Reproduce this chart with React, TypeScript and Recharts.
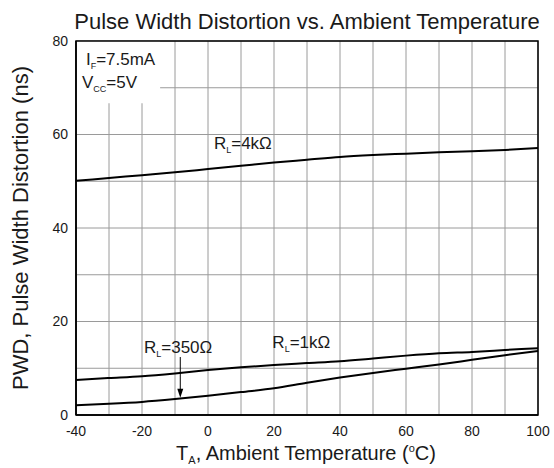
import React from 'react';
import { LineChart, Line, XAxis, YAxis, CartesianGrid, ReferenceArea, ReferenceDot, ReferenceLine } from 'recharts';

const temps = [-40, -30, -20, -10, 0, 10, 20, 30, 40, 50, 60, 70, 80, 90, 100];
const rl4k = [50.1, 50.7, 51.3, 51.9, 52.6, 53.3, 54.0, 54.6, 55.2, 55.6, 55.9, 56.2, 56.4, 56.7, 57.1];
const rl1k = [7.5, 7.9, 8.3, 8.9, 9.6, 10.2, 10.7, 11.1, 11.5, 12.1, 12.7, 13.2, 13.5, 13.9, 14.3];
const rl350 = [2.1, 2.4, 2.8, 3.4, 4.1, 4.9, 5.7, 6.9, 8.0, 9.0, 9.9, 10.8, 11.8, 12.8, 13.7];
const yTicks = [0, 10, 20, 30, 40, 50, 60, 70, 80];

const data = temps.map((t, i) => ({ t, a: rl4k[i], b: rl1k[i], c: rl350[i] }));

const FONT = '"Liberation Sans", Arial, sans-serif';
const TXT = '#1a1a1a';

const subLabel = (main: string, sub: string, rest: string, fs: number, subFs: number) => (props: any) => {
  const vb = props.viewBox || {};
  const x = vb.x ?? 0;
  const y = vb.y ?? 0;
  return (
    <text x={x} y={y} fontFamily={FONT} fontSize={fs} fill={TXT}>
      {main}
      <tspan fontSize={subFs} dy={4}>{sub}</tspan>
      <tspan dy={-4}>{rest}</tspan>
    </text>
  );
};

const ArrowHead = (props: any) => {
  const { cx, cy } = props;
  if (cx == null || cy == null) return null;
  return <path d={`M${cx},${cy} L${cx - 3},${cy - 9} L${cx + 3},${cy - 9} Z`} fill="#000" />;
};

export default function App() {
  return (
    <div style={{ position: 'absolute', left: 0, top: 0, width: 554, height: 468, background: '#fff' }}>
      <LineChart width={554} height={468} data={data} margin={{ top: 41, right: 16, bottom: 0, left: 0 }}>
        <CartesianGrid stroke="#9a9a9a" strokeWidth={1} />
        <XAxis
          dataKey="t"
          type="number"
          domain={[-40, 100]}
          ticks={temps}
          height={53}
          tickLine={false}
          tickSize={0}
          tickMargin={11}
          axisLine={{ stroke: '#000', strokeWidth: 1.5 }}
          tick={{ fill: TXT, fontSize: 14, fontFamily: FONT }}
          tickFormatter={(v: number) => (v % 20 === 0 ? String(v) : '')}
        />
        <YAxis
          type="number"
          domain={[0, 80]}
          ticks={yTicks}
          width={76}
          tickLine={false}
          tickSize={0}
          tickMargin={8}
          axisLine={{ stroke: '#000', strokeWidth: 1.5 }}
          tick={{ fill: TXT, fontSize: 14, fontFamily: FONT }}
          tickFormatter={(v: number) => (v % 20 === 0 ? String(v) : '')}
        />
        <ReferenceArea x1={-40} x2={-14.5} y1={66.7} y2={80} fill="#fff" fillOpacity={1} stroke="none" ifOverflow="visible" />
        <ReferenceArea x1={-40} x2={100} y1={0} y2={80} fill="none" stroke="#000" strokeWidth={1.5} ifOverflow="visible" />
        <Line type="monotone" dataKey="a" stroke="#000" strokeWidth={2} dot={false} isAnimationActive={false} />
        <Line type="monotone" dataKey="b" stroke="#000" strokeWidth={2} dot={false} isAnimationActive={false} />
        <Line type="monotone" dataKey="c" stroke="#000" strokeWidth={2} dot={false} isAnimationActive={false} />
        <ReferenceLine segment={[{ x: -8.4, y: 12.4 }, { x: -8.4, y: 5.0 }]} stroke="#000" strokeWidth={1} />
        <ReferenceDot x={-8.4} y={3.7} r={0} shape={ArrowHead} />
        <ReferenceDot x={-37} y={74.9} r={0} fill="none" stroke="none" label={subLabel('I', 'F', '=7.5mA', 17, 9)} />
        <ReferenceDot x={-38.2} y={70.0} r={0} fill="none" stroke="none" label={subLabel('V', 'CC', '=5V', 17, 9)} />
        <ReferenceDot x={1.8} y={56.8} r={0} fill="none" stroke="none" label={subLabel('R', 'L', '=4kΩ', 17, 9)} />
        <ReferenceDot x={-19.4} y={13.3} r={0} fill="none" stroke="none" label={subLabel('R', 'L', '=350Ω', 17, 9)} />
        <ReferenceDot x={19.5} y={14.3} r={0} fill="none" stroke="none" label={subLabel('R', 'L', '=1kΩ', 17, 9)} />
      </LineChart>
      <svg width={554} height={468} style={{ position: 'absolute', left: 0, top: 0, pointerEvents: 'none' }}>
        <text x={307} y={29} textAnchor="middle" fontFamily={FONT} fontSize={22} fill={TXT}>
          Pulse Width Distortion vs. Ambient Temperature
        </text>
        <text x={306} y={460} textAnchor="middle" fontFamily={FONT} fontSize={20} fill={TXT}>
          T<tspan fontSize={11} dy={4}>A</tspan>
          <tspan dy={-4}>, Ambient Temperature (</tspan>
          <tspan fontSize={11} dy={-8}>o</tspan>
          <tspan dy={8}>C)</tspan>
        </text>
        <text x={28} y={228} transform="rotate(-90, 28, 228)" textAnchor="middle" fontFamily={FONT} fontSize={22} fill={TXT}>
          PWD, Pulse Width Distortion (ns)
        </text>
      </svg>
    </div>
  );
}
